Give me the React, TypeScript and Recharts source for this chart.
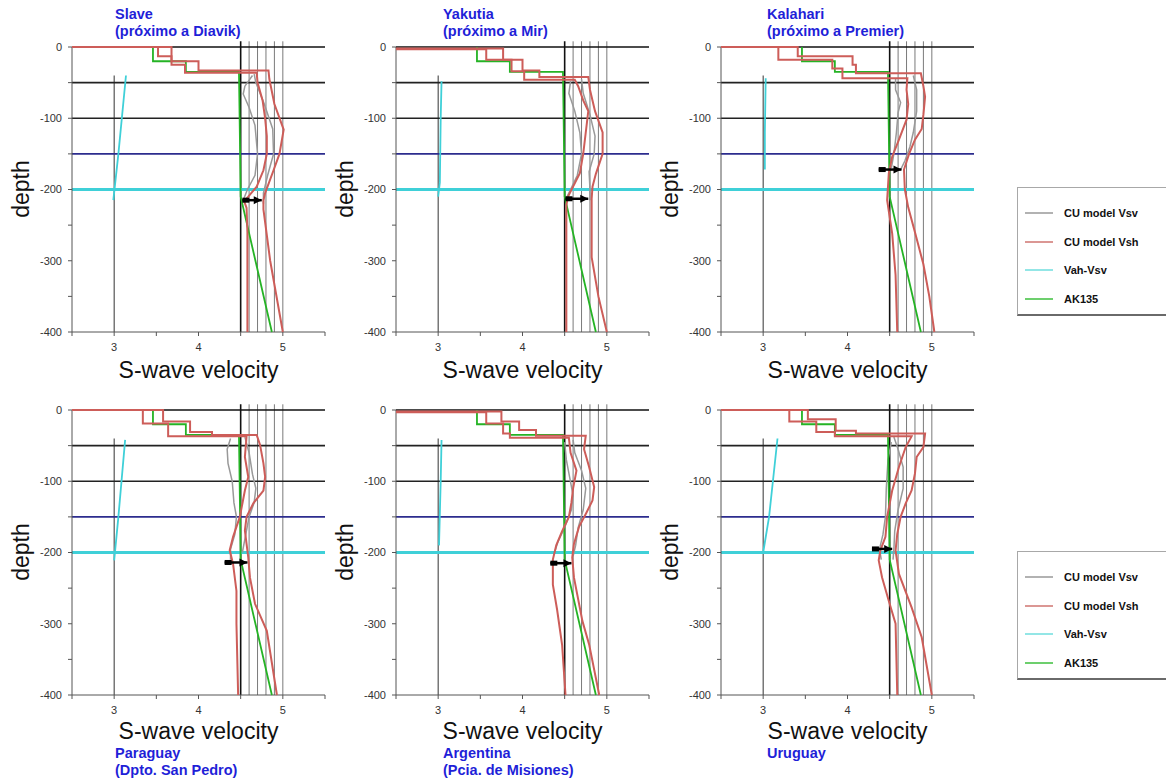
import { ComposedChart, XAxis, YAxis, Scatter, ReferenceLine } from 'recharts'

// velocity (km/s), depth (km) pairs
const AK135 = [[3.46, 0], [3.46, -20], [3.85, -20], [3.85, -35], [4.48, -35], [4.49, -120], [4.5, -210], [4.87, -400]]

const SLAVE_VSH_1 = [[2.5, 0], [3.68, 0], [3.68, -20], [4.0, -20], [4.0, -33], [4.83, -33], [4.84, -45], [4.9, -80], [5.01, -116], [4.96, -150], [4.89, -173], [4.79, -205], [4.77, -215], [4.77, -228], [4.85, -300], [5.0, -400]]
const SLAVE_VSH_2 = [[2.5, 0], [3.52, 0], [3.52, -13], [3.68, -13], [3.68, -25], [3.84, -25], [3.84, -36], [4.69, -36], [4.7, -50], [4.76, -75], [4.79, -100], [4.81, -125], [4.81, -150], [4.77, -173], [4.69, -196], [4.59, -210], [4.54, -216], [4.57, -226], [4.58, -260], [4.58, -400]]
const SLAVE_VSV_1 = [[4.66, -38], [4.68, -50], [4.78, -80], [4.88, -115], [4.89, -150], [4.82, -180], [4.77, -205], [4.77, -220]]
const SLAVE_VSV_2 = [[4.64, -40], [4.55, -55], [4.53, -66], [4.6, -85], [4.67, -110], [4.7, -150], [4.67, -180], [4.58, -200], [4.53, -215]]
const SLAVE_ANISO = [[2.99, -215], [3.05, -150], [3.14, -40]]
const SLAVE_ARROW = [[4.52, -215], [4.75, -215]]

const YAKUTIA_VSH_1 = [[2.5, -2], [3.77, -2], [3.77, -18], [4.0, -18], [4.0, -33], [4.2, -33], [4.2, -42], [4.78, -42], [4.8, -60], [4.86, -90], [4.95, -120], [4.95, -150], [4.87, -178], [4.83, -196], [4.82, -213], [4.82, -295], [4.9, -350], [5.0, -400]]
const YAKUTIA_VSH_2 = [[2.5, -3], [3.57, -3], [3.57, -18], [3.87, -18], [3.87, -34], [4.02, -34], [4.02, -46], [4.62, -46], [4.66, -55], [4.72, -75], [4.78, -90], [4.75, -120], [4.72, -150], [4.68, -177], [4.6, -196], [4.54, -210], [4.52, -222], [4.52, -400]]
const YAKUTIA_VSV_1 = [[4.7, -45], [4.72, -65], [4.8, -95], [4.86, -125], [4.85, -150], [4.79, -175], [4.8, -200], [4.8, -215]]
const YAKUTIA_VSV_2 = [[4.57, -48], [4.55, -65], [4.62, -90], [4.68, -120], [4.7, -150], [4.65, -180], [4.57, -200], [4.52, -212]]
const YAKUTIA_ANISO = [[3.0, -210], [3.02, -190], [3.03, -100], [3.04, -48]]
const YAKUTIA_ARROW = [[4.51, -213], [4.78, -213]]

const KALAHARI_VSH_1 = [[2.5, 0], [3.41, 0], [3.41, -13], [4.06, -13], [4.06, -25], [4.1, -25], [4.1, -37], [4.87, -37], [4.9, -55], [4.92, -70], [4.9, -95], [4.88, -115], [4.8, -130], [4.73, -150], [4.67, -172], [4.68, -200], [4.72, -225], [4.8, -260], [4.9, -305], [4.97, -350], [5.03, -400]]
const KALAHARI_VSH_2 = [[2.5, 0], [3.18, 0], [3.18, -18], [3.82, -18], [3.82, -30], [3.94, -30], [3.94, -44], [4.71, -44], [4.7, -60], [4.72, -80], [4.7, -102], [4.61, -130], [4.53, -154], [4.49, -177], [4.47, -215], [4.53, -262], [4.57, -320], [4.59, -400]]
const KALAHARI_VSV_1 = [[4.78, -40], [4.82, -60], [4.82, -90], [4.78, -120], [4.74, -140], [4.68, -160], [4.63, -172]]
const KALAHARI_VSV_2 = [[4.57, -45], [4.57, -60], [4.63, -78], [4.6, -92], [4.58, -120], [4.55, -150], [4.52, -170]]
const KALAHARI_ANISO = [[3.02, -172], [3.02, -120], [3.03, -44]]
const KALAHARI_ARROW = [[4.37, -172], [4.64, -172]]

const PARAGUAY_VSH_1 = [[2.5, 0], [3.58, 0], [3.58, -16], [3.9, -16], [3.9, -31], [4.16, -31], [4.16, -35], [4.69, -35], [4.73, -49], [4.77, -75], [4.79, -94], [4.77, -113], [4.65, -131], [4.57, -150], [4.55, -169], [4.57, -188], [4.59, -207], [4.61, -235], [4.67, -272], [4.81, -310], [4.93, -400]]
const PARAGUAY_VSH_2 = [[2.5, 0], [3.34, 0], [3.34, -19], [3.64, -19], [3.64, -37], [4.57, -37], [4.55, -66], [4.59, -94], [4.55, -113], [4.49, -150], [4.41, -178], [4.37, -197], [4.41, -216], [4.45, -254], [4.45, -300], [4.47, -400]]
const PARAGUAY_VSV_1 = [[4.55, -38], [4.6, -60], [4.64, -90], [4.68, -110], [4.66, -130], [4.6, -150], [4.56, -175], [4.52, -200]]
const PARAGUAY_VSV_2 = [[4.38, -40], [4.34, -55], [4.35, -75], [4.4, -100], [4.42, -130], [4.45, -150], [4.43, -175], [4.38, -195], [4.38, -210]]
const PARAGUAY_ANISO = [[3.0, -211], [3.05, -150], [3.13, -42]]
const PARAGUAY_ARROW = [[4.31, -214], [4.58, -214]]

const ARGENTINA_VSH_1 = [[2.5, -2], [3.75, -2], [3.75, -16], [3.96, -16], [3.96, -28], [4.16, -28], [4.16, -36], [4.75, -36], [4.73, -55], [4.79, -80], [4.85, -108], [4.83, -127], [4.75, -146], [4.67, -164], [4.61, -188], [4.59, -207], [4.61, -235], [4.71, -296], [4.79, -329], [4.91, -400]]
const ARGENTINA_VSH_2 = [[2.5, -3], [3.57, -3], [3.57, -19], [3.77, -19], [3.77, -33], [3.85, -33], [3.85, -39], [4.55, -39], [4.57, -60], [4.64, -85], [4.6, -110], [4.58, -130], [4.55, -150], [4.47, -170], [4.4, -190], [4.36, -210], [4.36, -245], [4.41, -280], [4.47, -330], [4.51, -400]]
const ARGENTINA_VSV_1 = [[4.6, -42], [4.62, -60], [4.7, -85], [4.75, -110], [4.72, -140], [4.66, -165], [4.63, -190], [4.6, -205]]
const ARGENTINA_VSV_2 = [[4.5, -45], [4.52, -70], [4.56, -95], [4.6, -120], [4.58, -140], [4.5, -165], [4.42, -185], [4.38, -200]]
const ARGENTINA_ANISO = [[3.01, -190], [3.03, -100], [3.04, -42]]
const ARGENTINA_ARROW = [[4.33, -215], [4.58, -215]]

const URUGUAY_VSH_1 = [[2.5, 0], [3.53, 0], [3.53, -13], [3.86, -13], [3.86, -29], [4.1, -29], [4.1, -33], [4.92, -33], [4.9, -52], [4.82, -66], [4.8, -89], [4.76, -113], [4.69, -131], [4.63, -150], [4.59, -174], [4.57, -197], [4.61, -230], [4.76, -277], [4.88, -319], [5.0, -400]]
const URUGUAY_VSH_2 = [[2.5, 0], [3.31, 0], [3.31, -16], [3.63, -16], [3.63, -31], [3.85, -31], [3.85, -37], [4.76, -37], [4.69, -52], [4.61, -80], [4.53, -113], [4.47, -150], [4.45, -178], [4.39, -197], [4.37, -211], [4.41, -235], [4.49, -268], [4.57, -300], [4.59, -400]]
const URUGUAY_VSV_1 = [[4.55, -38], [4.6, -55], [4.66, -80], [4.66, -110], [4.6, -140], [4.56, -170], [4.55, -195], [4.54, -210]]
const URUGUAY_VSV_2 = [[4.52, -45], [4.48, -70], [4.46, -110], [4.45, -150], [4.42, -175], [4.38, -195], [4.4, -210]]
const URUGUAY_ANISO = [[3.0, -200], [3.07, -150], [3.17, -40]]
const URUGUAY_ARROW = [[4.29, -195], [4.53, -195]]

const X_TICKS = [2.5, 3, 3.5, 4, 4.5, 5, 5.5]
const Y_TICKS = [-400, -350, -300, -250, -200, -150, -100, -50, 0]
const GRID_VELOCITIES = [4.6, 4.7, 4.8, 4.9, 5.0]
const SURFACE_LINE = [[2.5, 0], [5.5, 0]]
const LEGEND_LABELS = ['CU model Vsv', 'CU model Vsh', 'Vah-Vsv', 'AK135']

const RED = '#cd5d59'
const GRAY = '#999999'
const GREEN = '#25b325'
const CYAN = '#3fd0d8'
const LEGEND_COLORS = [GRAY, '#cf7470', '#6fdede', '#3cbf3c']
const FONT = '"Liberation Sans", Arial, Helvetica, sans-serif'

const toPts = (arr: number[][]) => arr.map(([v, d]) => ({ v, d }))

const panels = [
  { title: ['Slave', '(próximo a Diavik)'], vsh: [SLAVE_VSH_1, SLAVE_VSH_2], vsv: [SLAVE_VSV_1, SLAVE_VSV_2], aniso: SLAVE_ANISO, arrow: SLAVE_ARROW },
  { title: ['Yakutia', '(próximo a Mir)'], vsh: [YAKUTIA_VSH_1, YAKUTIA_VSH_2], vsv: [YAKUTIA_VSV_1, YAKUTIA_VSV_2], aniso: YAKUTIA_ANISO, arrow: YAKUTIA_ARROW },
  { title: ['Kalahari', '(próximo a Premier)'], vsh: [KALAHARI_VSH_1, KALAHARI_VSH_2], vsv: [KALAHARI_VSV_1, KALAHARI_VSV_2], aniso: KALAHARI_ANISO, arrow: KALAHARI_ARROW },
  { title: ['Paraguay', '(Dpto. San Pedro)'], vsh: [PARAGUAY_VSH_1, PARAGUAY_VSH_2], vsv: [PARAGUAY_VSV_1, PARAGUAY_VSV_2], aniso: PARAGUAY_ANISO, arrow: PARAGUAY_ARROW },
  { title: ['Argentina', '(Pcia. de Misiones)'], vsh: [ARGENTINA_VSH_1, ARGENTINA_VSH_2], vsv: [ARGENTINA_VSV_1, ARGENTINA_VSV_2], aniso: ARGENTINA_ANISO, arrow: ARGENTINA_ARROW },
  { title: ['Uruguay'], vsh: [URUGUAY_VSH_1, URUGUAY_VSH_2], vsv: [URUGUAY_VSV_1, URUGUAY_VSV_2], aniso: URUGUAY_ANISO, arrow: URUGUAY_ARROW },
]

const COL_X = [0, 324, 649]
const ROW_Y = [0, 363]

const noShape = () => <g />

const arrowShape = (props: any) => {
  const { cx, cy, payload } = props
  if (payload.head) return <polygon points={`${cx},${cy} ${cx - 8},${cy - 4} ${cx - 8},${cy + 4}`} fill="#000" />
  return <rect x={cx} y={cy - 2.5} width={7} height={5} fill="#000" />
}

function Panel({ p, left, top }: { p: any, left: number, top: number }) {
  const arrowPts = p.arrow.map(([v, d]: number[], i: number) => ({ v, d, head: i === 1 }))
  return (
    <div style={{ position: 'absolute', left, top, width: 340, height: 390 }}>
      <ComposedChart width={340} height={390} margin={{ top: 47, right: 15, bottom: 38, left: 32 }}>
        <XAxis dataKey="v" type="number" domain={[2.5, 5.5]} ticks={X_TICKS}
          tickFormatter={(v: number) => (Number.isInteger(v) ? String(v) : '')}
          stroke="#555" tickSize={4} tickMargin={7} height={20}
          tick={{ fill: '#333', fontSize: 11, fontFamily: FONT }} />
        <XAxis xAxisId="top" orientation="top" type="number" domain={[2.5, 5.5]} ticks={X_TICKS}
          height={0} tick={false} tickSize={4} axisLine={false} stroke="#555" />
        <YAxis dataKey="d" type="number" domain={[-400, 0]} ticks={Y_TICKS}
          tickFormatter={(d: number) => (d % 100 === 0 ? String(d) : '')}
          stroke="#555" tickSize={4} tickMargin={6} width={40}
          tick={{ fill: '#333', fontSize: 11, fontFamily: FONT }} />
        <YAxis yAxisId="right" orientation="right" type="number" domain={[-400, 0]} ticks={Y_TICKS}
          width={0} tick={false} tickSize={4} stroke="#555" />

        {GRID_VELOCITIES.map(v => (
          <ReferenceLine key={v} segment={[{ x: v, y: 8 }, { x: v, y: -400 }]} ifOverflow="visible" stroke="#7a7a7a" strokeWidth={1} />
        ))}
        <ReferenceLine segment={[{ x: 3, y: -40 }, { x: 3, y: -400 }]} stroke="#333" strokeWidth={1} />
        <ReferenceLine segment={[{ x: 4.5, y: 8 }, { x: 4.5, y: -400 }]} ifOverflow="visible" stroke="#111" strokeWidth={1.6} />
        <ReferenceLine y={-50} stroke="#222" strokeWidth={1.6} />
        <ReferenceLine y={-100} stroke="#222" strokeWidth={1.6} />
        <ReferenceLine y={-150} stroke="#2c2c8e" strokeWidth={1.6} />
        <ReferenceLine y={-200} stroke={CYAN} strokeWidth={3} />

        <Scatter data={toPts(SURFACE_LINE)} line={{ stroke: '#111', strokeWidth: 1.5 }} shape={noShape} fill="#111" isAnimationActive={false} />
        <Scatter data={toPts(p.aniso)} line={{ stroke: CYAN, strokeWidth: 1.8 }} shape={noShape} fill={CYAN} isAnimationActive={false} />
        {p.vsv.map((s: number[][], i: number) => (
          <Scatter key={'vsv' + i} data={toPts(s)} line={{ stroke: GRAY, strokeWidth: 1.5 }} shape={noShape} fill={GRAY} isAnimationActive={false} />
        ))}
        <Scatter data={toPts(AK135)} line={{ stroke: GREEN, strokeWidth: 1.8 }} shape={noShape} fill={GREEN} isAnimationActive={false} />
        {p.vsh.map((s: number[][], i: number) => (
          <Scatter key={'vsh' + i} data={toPts(s)} line={{ stroke: RED, strokeWidth: 2 }} shape={noShape} fill={RED} isAnimationActive={false} />
        ))}
        <Scatter data={arrowPts} line={{ stroke: '#000', strokeWidth: 2.5 }} shape={arrowShape} fill="#000" isAnimationActive={false} />
      </ComposedChart>
    </div>
  )
}

function LegendBox({ top }: { top: number }) {
  return (
    <div style={{ position: 'absolute', left: 1017, top, width: 160, height: 129, border: '1px solid #a8a8a8', borderBottom: '2px solid #6a6a6a', boxSizing: 'border-box', background: '#fff' }}>
      {LEGEND_LABELS.map((label, i) => (
        <div key={label} style={{ position: 'absolute', left: 7, top: 17 + i * 28.5, height: 16, display: 'flex', alignItems: 'center' }}>
          <svg width={30} height={4} style={{ display: 'block' }}>
            <line x1={0} y1={2} x2={28} y2={2} stroke={LEGEND_COLORS[i]} strokeWidth={1.5} />
          </svg>
          <span style={{ marginLeft: 9, fontFamily: FONT, fontWeight: 700, fontSize: 11, color: '#111', whiteSpace: 'nowrap' }}>{label}</span>
        </div>
      ))}
    </div>
  )
}

export default function App() {
  return (
    <div style={{ position: 'absolute', left: 0, top: 0, width: 1166, height: 778, overflow: 'hidden', background: '#fff' }}>
      {panels.map((p, i) => {
        const col = i % 3
        const row = Math.floor(i / 3)
        const left = COL_X[col]
        const top = ROW_Y[row]
        const plotCenterX = left + 72 + 126.5
        const titleTop = row === 0 ? 6 : 745
        const xLabelTop = row === 0 ? 359 : 720
        return (
          <div key={i}>
            <Panel p={p} left={left} top={top} />
            <div style={{ position: 'absolute', left: left + 21, top: top + 189, transform: 'translate(-50%, -50%) rotate(-90deg)', fontFamily: FONT, fontSize: 23, lineHeight: '23px', color: '#111', whiteSpace: 'nowrap' }}>depth</div>
            <div style={{ position: 'absolute', left: plotCenterX, top: xLabelTop, transform: 'translateX(-50%)', fontFamily: FONT, fontSize: 23, lineHeight: '23px', color: '#111', whiteSpace: 'nowrap' }}>S-wave velocity</div>
            <div style={{ position: 'absolute', left: left + 115 + (col === 1 ? 4 : col === 2 ? 3 : 0), top: titleTop, fontFamily: FONT, fontWeight: 700, fontSize: 14.5, lineHeight: '17px', color: '#1f1fd8', whiteSpace: 'nowrap' }}>
              {p.title.map(t => <div key={t}>{t}</div>)}
            </div>
          </div>
        )
      })}
      <LegendBox top={187} />
      <LegendBox top={551} />
    </div>
  )
}
